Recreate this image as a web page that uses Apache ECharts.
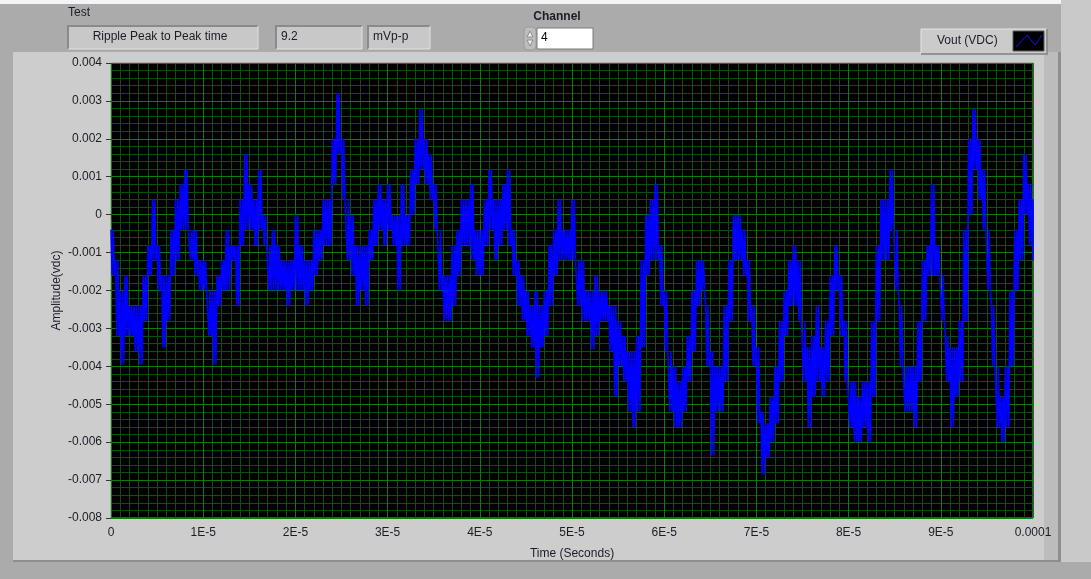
<!DOCTYPE html>
<html>
<head>
<meta charset="utf-8">
<style>
  html, body { margin: 0; padding: 0; background: #ababab; }
  #chart { width: 1091px; height: 579px; }
</style>
<script src="https://cdn.jsdelivr.net/npm/echarts@6/dist/echarts.min.js"></script>
</head>
<body>
<div id="chart"></div>
<script>
// Sample spacing of the acquisition record (seconds)
const sampleStep = 0.5e-6;

// Upper and lower envelope of the Vout trace at each sample, in millivolts
const hiMv = [
  -0.4, -1.2, -2.0, -1.6, -2.4, -2.4, -2.4, -1.6, -0.8, 0.4,
  -0.8, -1.6, -1.6, -0.4, 0.4, 0.8, 1.2, -0.4, -0.4, -1.2,
  -1.2, -2.0, -2.0, -1.6, -1.2, -0.4, -0.8, -0.8, 0.4, 1.6,
  0.8, 0.4, 1.2, 0.0, -0.8, -0.4, -0.8, -1.2, -1.2, -1.2,
  0.0, -0.8, -1.2, -1.2, -0.4, -0.4, 0.4, 0.4, 2.0, 3.2,
  2.0, 0.4, 0.0, -0.8, -0.8, -0.8, -0.4, 0.4, 0.8, 0.4,
  0.8, 0.0, 0.0, 0.8, 0.0, 1.2, 2.0, 2.8, 2.0, 1.6,
  0.8, -0.4, -1.6, -1.6, -0.8, -0.4, 0.4, 0.4, 0.8, -0.4,
  -0.4, 0.4, 1.2, 0.4, 0.4, 0.8, 1.2, -0.4, -1.2, -1.6,
  -2.0, -2.4, -2.0, -2.4, -2.0, -0.8, -0.4, 0.4, -0.4, -0.4,
  0.4, -1.2, -1.2, -2.0, -2.0, -1.6, -2.0, -2.0, -2.4, -2.4,
  -2.8, -3.2, -3.6, -3.6, -3.2, -1.2, 0.0, 0.4, 0.8, -0.8,
  -2.0, -3.6, -4.0, -4.4, -4.0, -3.2, -2.0, -1.2, -1.2, -2.4,
  -3.6, -4.0, -4.0, -2.4, -1.2, 0.0, 0.0, -0.4, -1.2, -2.4,
  -3.5, -5.2, -5.5, -4.8, -4.0, -2.8, -2.0, -1.2, -0.8, -1.2,
  -2.8, -3.5, -3.2, -2.4, -3.5, -2.8, -1.6, -0.8, -1.6, -2.8,
  -4.4, -4.4, -4.8, -4.4, -4.4, -2.8, -0.8, 0.4, 0.4, 1.2,
  -0.4, -2.4, -4.0, -4.0, -4.0, -2.8, -1.2, -0.8, 0.8, -0.8,
  -1.6, -3.2, -3.5, -3.5, -2.8, -0.4, 2.0, 2.8, 2.0, 1.2,
  -0.4, -2.4, -4.0, -4.8, -4.0, -2.0, -0.4, 0.4, 1.6, 0.8,
  0.4
];
const loMv = [
  -1.6, -3.2, -3.95, -3.2, -3.2, -3.6, -3.95, -2.8, -1.6, -1.2,
  -2.0, -3.5, -2.8, -1.6, -1.2, -0.4, -0.4, -1.2, -1.6, -2.0,
  -2.0, -3.2, -3.95, -2.4, -2.0, -2.0, -1.2, -2.4, -0.8, -0.4,
  -0.4, -0.8, -0.4, -0.8, -2.0, -2.0, -2.0, -2.0, -2.4, -2.0,
  -2.0, -2.0, -2.4, -2.0, -1.6, -1.2, -0.8, -0.8, 0.8, 1.6,
  0.4, -1.2, -1.6, -2.4, -2.0, -2.4, -1.2, -0.8, -0.4, -0.8,
  -0.4, -0.8, -2.0, -0.8, -0.8, 0.0, 0.8, 1.2, 0.8, 0.4,
  -0.4, -2.0, -2.8, -2.8, -2.4, -1.6, -0.8, -0.8, -1.2, -1.6,
  -1.6, -0.8, -0.4, -1.2, -0.8, -0.4, -0.8, -1.6, -2.4, -2.8,
  -3.2, -3.5, -4.3, -3.5, -3.2, -2.4, -1.6, -1.2, -1.2, -1.2,
  -1.2, -2.4, -2.8, -2.8, -3.55, -3.2, -2.8, -2.8, -3.6, -4.8,
  -4.0, -4.4, -5.2, -5.6, -5.2, -3.5, -1.6, -1.2, -1.2, -2.4,
  -3.6, -5.2, -5.6, -5.6, -5.2, -4.4, -3.6, -2.4, -2.0, -4.0,
  -6.35, -5.2, -5.2, -4.4, -2.8, -1.2, -1.2, -1.6, -2.8, -4.0,
  -5.5, -6.85, -6.4, -6.0, -5.5, -4.4, -3.2, -2.4, -2.4, -2.8,
  -4.4, -5.6, -4.8, -4.4, -4.8, -4.4, -3.2, -2.0, -3.2, -4.4,
  -5.6, -6.0, -6.0, -5.6, -6.0, -4.8, -2.8, -1.2, -1.2, -0.4,
  -2.0, -4.0, -5.2, -5.2, -5.6, -4.4, -2.8, -1.6, -1.6, -1.6,
  -2.8, -4.4, -5.6, -4.8, -4.4, -2.8, 0.0, 1.2, 0.4, -0.4,
  -2.0, -4.0, -5.6, -6.0, -5.6, -4.0, -2.0, -1.2, 0.0, -0.8,
  -1.2
];

// Axis tick labels
const xTickLabels = ['0', '1E-5', '2E-5', '3E-5', '4E-5', '5E-5', '6E-5', '7E-5', '8E-5', '9E-5', '0.0001'];
const yTickLabels = ['-0.008', '-0.007', '-0.006', '-0.005', '-0.004', '-0.003', '-0.002', '-0.001', '0', '0.001', '0.002', '0.003', '0.004'];

const X_MIN = 0, X_MAX = 1e-4, X_STEP = 1e-5, X_MINOR = 1e-6;
const Y_MIN = -0.008, Y_MAX = 0.004, Y_STEP = 0.001, Y_MINOR = 0.0002;

// Within each sample the noisy trace swings repeatedly between its peak and trough
const SWINGS = 4;
const traceData = [];
for (let i = 0; i < hiMv.length; i++) {
  const t = i * sampleStep;
  for (let k = 0; k < SWINGS; k++) {
    const tk = Math.min(t + k * sampleStep / SWINGS, X_MAX);
    traceData.push([tk, (k % 2 === 0 ? hiMv[i] : loMv[i]) / 1000]);
  }
}

const FONT = '"Liberation Sans", Arial, sans-serif';
const TXT = '#1c1c28';
const MAJOR_GRID = '#0c7c0c';
const MINOR_GRID = '#0a520a';

function sunkenBox(x, y, w, h, fill) {
  return [
    { type: 'rect', shape: { x: x, y: y, width: w, height: h }, style: { fill: fill, stroke: null } },
    { type: 'polyline', shape: { points: [[x, y + h], [x, y], [x + w, y]] }, style: { stroke: '#8a8a8a', lineWidth: 2, fill: null } },
    { type: 'polyline', shape: { points: [[x + w, y], [x + w, y + h], [x, y + h]] }, style: { stroke: '#e2e2e2', lineWidth: 1, fill: null } }
  ];
}

// Fine graticule axis: draws only its grid lines
function fineAxis(min, max, step) {
  return {
    type: 'value', min: min, max: max, interval: step, z: 0,
    axisLine: { show: false }, axisTick: { show: false }, axisLabel: { show: false },
    splitLine: { show: true, lineStyle: { color: MINOR_GRID, width: 1 } }
  };
}

const chart = echarts.init(document.getElementById('chart'), null, { renderer: 'canvas' });

const graphics = [].concat(
  [
    // page strip and chart panel
    { type: 'rect', shape: { x: 0, y: 0, width: 1091, height: 4 }, style: { fill: '#f4f4f4' }, z: -10 },
    { type: 'rect', shape: { x: 1061, y: 0, width: 30, height: 562 }, style: { fill: '#c9c9c9' }, z: -10 },
    { type: 'rect', shape: { x: 13, y: 52, width: 1047, height: 509 }, style: { fill: '#cdcdcd' }, z: -10 },
    { type: 'rect', shape: { x: 1044, y: 52, width: 14, height: 509 }, style: { fill: '#bcbcbc' }, z: -9 },
    { type: 'rect', shape: { x: 1058, y: 52, width: 3, height: 510 }, style: { fill: '#8e8e8e' }, z: -9 },
    { type: 'rect', shape: { x: 13, y: 560, width: 1048, height: 2 }, style: { fill: '#8e8e8e' }, z: -9 },
    // header labels
    { type: 'text', style: { x: 68, y: 7, text: 'Test', font: '12px ' + FONT, fill: TXT } },
    { type: 'text', style: { x: 557, y: 11, text: 'Channel', font: 'bold 12px ' + FONT, fill: TXT, textAlign: 'center' } }
  ],
  sunkenBox(68, 26, 190, 23, '#c8c8c8'),
  sunkenBox(276, 26, 86, 23, '#c8c8c8'),
  sunkenBox(368, 26, 62, 23, '#c8c8c8'),
  [
    { type: 'text', style: { x: 160, y: 31, text: 'Ripple Peak to Peak time', font: '12px ' + FONT, fill: TXT, textAlign: 'center' } },
    { type: 'text', style: { x: 281, y: 31, text: '9.2', font: '12px ' + FONT, fill: TXT } },
    { type: 'text', style: { x: 373, y: 31, text: 'mVp-p', font: '12px ' + FONT, fill: TXT } },
    // channel spinner and entry box
    { type: 'rect', shape: { x: 524, y: 27, width: 12, height: 23, r: 4 }, style: { fill: '#bdbdbd', stroke: '#9a9a9a' } },
    { type: 'polygon', shape: { points: [[530, 31], [527, 37], [533, 37]] }, style: { fill: '#f0f0f0', stroke: '#8a8a8a' } },
    { type: 'polygon', shape: { points: [[530, 46], [527, 40], [533, 40]] }, style: { fill: '#f0f0f0', stroke: '#8a8a8a' } },
    { type: 'rect', shape: { x: 537, y: 28, width: 56, height: 21 }, style: { fill: '#ffffff', stroke: '#7a7a7a', lineWidth: 1 } },
    { type: 'text', style: { x: 541, y: 32, text: '4', font: '12px ' + FONT, fill: '#000' } },
    // plot legend
    { type: 'rect', shape: { x: 921, y: 29, width: 126, height: 25 }, style: { fill: '#cbcbcb', stroke: '#e4e4e4', lineWidth: 1 } },
    { type: 'polyline', shape: { points: [[921, 54], [1047, 54], [1047, 29]] }, style: { stroke: '#7c7c7c', lineWidth: 1.5, fill: null } },
    { type: 'text', style: { x: 937, y: 35, text: 'Vout (VDC)', font: '12px ' + FONT, fill: TXT } },
    { type: 'rect', shape: { x: 1013, y: 31, width: 31, height: 20 }, style: { fill: '#000', stroke: '#5a5a5a' } },
    { type: 'polyline', shape: { points: [[1016, 47], [1027, 35], [1035, 45], [1042, 35]] }, style: { stroke: '#1010ff', lineWidth: 1, fill: null } }
  ]
);

chart.setOption({
  backgroundColor: '#ababab',
  animation: false,
  graphic: graphics,
  grid: {
    left: 111, top: 63, width: 922, height: 455,
    show: true, backgroundColor: '#000000', borderColor: '#8c8c8c', borderWidth: 1
  },
  xAxis: [{
    type: 'value', min: X_MIN, max: X_MAX, interval: X_STEP, z: 1,
    name: 'Time (Seconds)', nameLocation: 'middle', nameGap: 30, nameMoveOverlap: false,
    nameTextStyle: { color: TXT, fontSize: 12, fontFamily: FONT },
    axisLine: { show: false },
    axisTick: { show: true, length: 5, lineStyle: { color: '#333' } },
    axisLabel: {
      margin: 9, color: TXT, fontSize: 12, fontFamily: FONT,
      formatter: function (v) { return xTickLabels[Math.round((v - X_MIN) / X_STEP)]; }
    },
    splitLine: { show: true, lineStyle: { color: MAJOR_GRID, width: 1 } }
  }, fineAxis(X_MIN, X_MAX, X_MINOR)],
  yAxis: [{
    type: 'value', min: Y_MIN, max: Y_MAX, interval: Y_STEP, z: 1,
    name: 'Amplitude(vdc)', nameLocation: 'middle', nameGap: 48, nameRotate: 90, nameMoveOverlap: false,
    nameTextStyle: { color: TXT, fontSize: 12, fontFamily: FONT },
    axisLine: { show: false },
    axisTick: { show: true, length: 5, lineStyle: { color: '#333' } },
    axisLabel: {
      margin: 9, color: TXT, fontSize: 12, fontFamily: FONT,
      formatter: function (v) { return yTickLabels[Math.round((v - Y_MIN) / Y_STEP)]; }
    },
    splitLine: { show: true, lineStyle: { color: MAJOR_GRID, width: 1 } }
  }, fineAxis(Y_MIN, Y_MAX, Y_MINOR)],
  series: [{
    name: 'Vout (VDC)',
    type: 'line',
    xAxisIndex: 0, yAxisIndex: 0,
    data: traceData,
    showSymbol: false,
    sampling: null,
    clip: true,
    z: 3,
    lineStyle: { color: '#0000ff', width: 1.6 },
    itemStyle: { color: '#0000ff' }
  }]
});
</script>
</body>
</html>
